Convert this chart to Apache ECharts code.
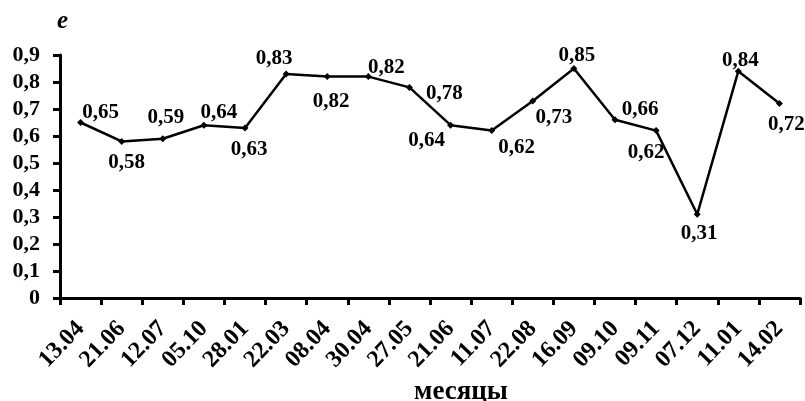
<!DOCTYPE html>
<html>
<head>
<meta charset="utf-8">
<script src="https://cdn.jsdelivr.net/npm/echarts@6/dist/echarts.min.js"></script>
<style>
    html, body { margin: 0; padding: 0; background: #fff; }
    #chart { width: 805px; height: 401px; }
</style>
</head>
<body>
<div id="chart"></div>
<script>
    // даты измерений
    var categories = ['13.04', '21.06', '12.07', '05.10', '28.01', '22.03', '08.04', '30.04', '27.05',
        '21.06', '11.07', '22.08', '16.09', '09.10', '09.11', '07.12', '11.01', '14.02'];
    // значения e
    var values = [0.65, 0.58, 0.59, 0.64, 0.63, 0.83, 0.82, 0.82, 0.78,
        0.64, 0.62, 0.73, 0.85, 0.66, 0.62, 0.31, 0.84, 0.72];
    var yTicks = [0, 0.1, 0.2, 0.3, 0.4, 0.5, 0.6, 0.7, 0.8, 0.9];

    // смещения подписей относительно точек
    var labelOffsets = [[20, -10], [5, 21], [3, -21], [15, -13], [4, 22], [-12, -15], [4, 25], [18, -9], [35, 6],
        [-24, 15], [25, 17], [21, 17], [3, -13], [25, -10], [-10, 22], [2, 19], [2, -11], [7, 21]];

    var font = '"Liberation Serif", "Times New Roman", serif';
    var comma = function (v) { return v === 0 ? '0' : String(v).replace('.', ','); };

    var myChart = echarts.init(document.getElementById('chart'));
    var option = {
        animation: false,
        backgroundColor: '#fff',
        textStyle: { fontFamily: font },
        title: [
            {
                text: 'e',
                left: 52, top: 4,
                textStyle: { fontFamily: font, fontSize: 25, fontWeight: 'bold', fontStyle: 'italic', color: '#000' }
            },
            {
                text: 'месяцы',
                left: 409, top: 374,
                textStyle: { fontFamily: font, fontSize: 27, fontWeight: 'bold', color: '#000' }
            }
        ],
        grid: { left: 60, right: 5, top: 55, bottom: 103, outerBoundsMode: 'none' },
        xAxis: {
            type: 'category',
            data: categories,
            boundaryGap: true,
            axisLine: { lineStyle: { color: '#000', width: 3 } },
            axisTick: { show: true, length: 7, lineStyle: { color: '#000', width: 3 } },
            axisLabel: {
                rotate: 46, margin: 27, interval: 0,
                fontFamily: font, fontSize: 24, fontWeight: 'bold', color: '#000'
            },
            splitLine: { show: false }
        },
        yAxis: {
            type: 'value',
            min: yTicks[0], max: yTicks[yTicks.length - 1], interval: 0.1,
            axisLine: { show: true, lineStyle: { color: '#000', width: 3 } },
            axisTick: { show: true, length: 7, lineStyle: { color: '#000', width: 3 } },
            axisLabel: {
                margin: 20,
                fontFamily: font, fontSize: 22, fontWeight: 'bold', color: '#000',
                formatter: function (v) { return comma(Math.round(v * 10) / 10); }
            },
            splitLine: { show: false }
        },
        series: [
            {
                type: 'line',
                data: values.map(function (v, i) {
                    return {
                        value: v,
                        label: { offset: labelOffsets[i] }
                    };
                }),
                symbol: 'diamond',
                symbolSize: 7,
                lineStyle: { color: '#000', width: 2.5 },
                itemStyle: { color: '#000' },
                label: {
                    show: true,
                    position: 'inside',
                    fontFamily: font, fontSize: 21, fontWeight: 'bold', color: '#000',
                    formatter: function (p) { return comma(p.value); }
                }
            }
        ]
    };
    myChart.setOption(option);
</script>
</body>
</html>
